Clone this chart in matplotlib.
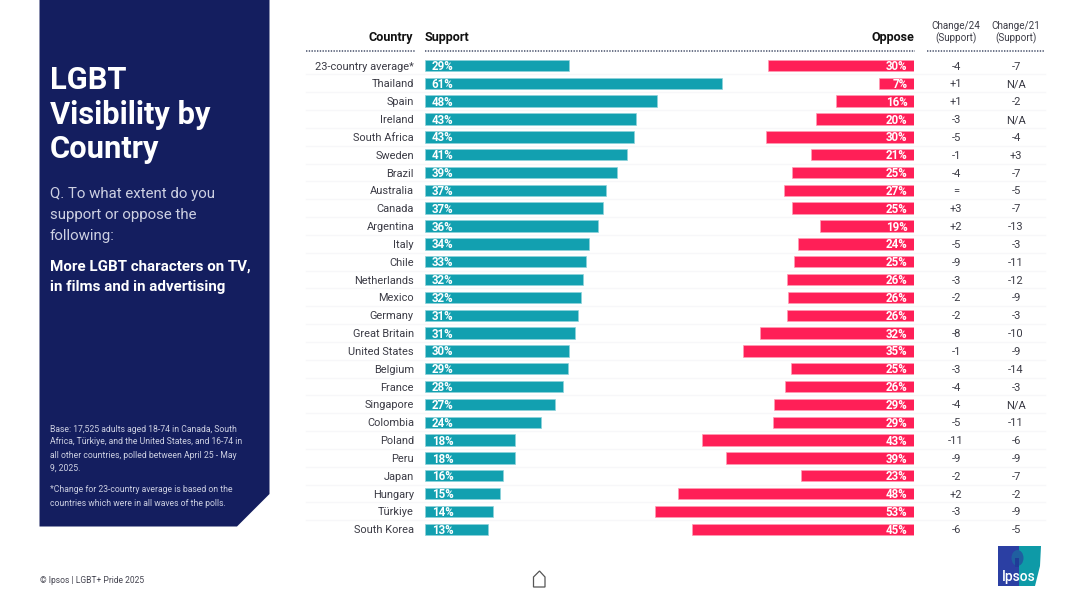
"""LGBT visibility by country, Ipsos Pride 2025 slide."""

import matplotlib

matplotlib.use("Agg")  # headless
import matplotlib.pyplot as plt
from matplotlib.patches import Ellipse, Polygon, Rectangle

W, H = 1080, 607

countries = [
    "23-country average*", "Thailand", "Spain", "Ireland", "South Africa", "Sweden", "Brazil",
    "Australia", "Canada", "Argentina", "Italy", "Chile", "Netherlands", "Mexico", "Germany",
    "Great Britain", "United States", "Belgium", "France", "Singapore", "Colombia", "Poland",
    "Peru", "Japan", "Hungary", "Türkiye", "South Korea",
]
# printed labels
support_labels = [29, 61, 48, 43, 43, 41, 39, 37, 37, 36, 34, 33, 32, 32, 31, 31, 30, 29, 28, 27, 24, 18, 18, 16, 15, 14, 13]
oppose_labels = [30, 7, 16, 20, 30, 21, 25, 27, 25, 19, 24, 25, 26, 26, 26, 32, 35, 25, 26, 29, 29, 43, 39, 23, 48, 53, 45]
# bar lengths, they run slightly off the printed labels
support_bars = [29.6, 61.0, 47.8, 43.4, 43.0, 41.5, 39.4, 37.2, 36.7, 35.6, 33.8, 33.1, 32.6, 32.0,
                31.5, 30.8, 29.6, 29.4, 28.3, 26.8, 23.9, 18.5, 18.5, 16.0, 15.4, 14.0, 12.9]
oppose_bars = [29.9, 7.3, 15.9, 20.1, 30.2, 21.1, 25.0, 26.6, 25.0, 19.2, 23.7, 24.6, 26.0, 25.8,
               26.0, 31.5, 34.9, 25.1, 26.4, 28.6, 28.8, 43.3, 38.5, 23.1, 48.2, 52.9, 45.4]
change_24 = ["-4", "+1", "+1", "-3", "-5", "-1", "-4", "=", "+3", "+2", "-5", "-9", "-3", "-2", "-2",
             "-8", "-1", "-3", "-4", "-4", "-5", "-11", "-9", "-2", "+2", "-3", "-6"]
change_21 = ["-7", "N/A", "-2", "N/A", "-4", "+3", "-7", "-5", "-7", "-13", "-3", "-11", "-12", "-9",
             "-3", "-10", "-9", "-14", "-3", "N/A", "-11", "-6", "-9", "-7", "-2", "-9", "-5"]

title_lines = ["LGBT", "Visibility by", "Country"]
question_lines = ["Q. To what extent do you", "support or oppose the", "following:"]
item_lines = ["More LGBT characters on TV,", "in films and in advertising"]
base_lines = ["Base: 17,525 adults aged 18-74 in Canada, South",
              "Africa, Türkiye, and the United States, and 16-74 in",
              "all other countries, polled between April 25 - May",
              "9, 2025."]
note_lines = ["*Change for 23-country average is based on the",
              "countries which were in all waves of the polls."]

NAVY = "#141E5F"
TEAL = "#12A0B0"
RED = "#FF1F57"
INK = "#3C3C46"
SOFT = "#CDD0E2"

plt.rcParams["font.family"] = ["Roboto", "DejaVu Sans"]
fig = plt.figure(figsize=(W / 100, H / 100), dpi=100, facecolor="white")


def px_axes(x0, y0, x1, y1):
    """Transparent axes placed by picture pixels (y from the top)."""
    ax = fig.add_axes([x0 / W, 1 - y1 / H, (x1 - x0) / W, (y1 - y0) / H])
    ax.set_axis_off()
    ax.patch.set_alpha(0)
    return ax


page = px_axes(0, 0, W, H)
page.set_xlim(0, W)
page.set_ylim(H, 0)

# left panel with the cut corner
page.add_patch(Polygon([(39.5, 0), (269.5, 0), (269.5, 494), (237, 526.5), (39.5, 526.5)],
                       closed=True, fc=NAVY, ec="none"))
for i, line in enumerate(title_lines):
    page.text(49.5, 80 + i * 34.5, line, color="white", fontsize=22.2, fontweight="bold", va="center")
for i, line in enumerate(question_lines):
    page.text(49.5, 194 + i * 21, line, color=SOFT, fontsize=10.8, va="center")
for i, line in enumerate(item_lines):
    page.text(49.5, 266.5 + i * 21, line, color="white", fontsize=10.9, fontweight="bold", va="center")
for i, line in enumerate(base_lines):
    page.text(49.5, 429 + i * 13, line, color=SOFT, fontsize=6.2, va="center")
for i, line in enumerate(note_lines):
    page.text(49.5, 490 + i * 13, line, color=SOFT, fontsize=6.2, va="center")

page.text(39.5, 580.5, "© Ipsos | LGBT+ Pride 2025", color="#444450", fontsize=6.15, va="center")

# headers
page.text(413, 37, "Country", color="#111111", fontsize=9.1, fontweight="bold", ha="right", va="center")
page.text(424.5, 37, "Support", color="#111111", fontsize=9.1, fontweight="bold", va="center")
page.text(914.5, 37, "Oppose", color="#111111", fontsize=9.0, fontweight="bold", ha="right", va="center")
for x, head in [(956, "Change/24"), (1016, "Change/21")]:
    page.text(x, 26, head, color=INK, fontsize=7.1, ha="center", va="center")
    page.text(x, 38, "(Support)", color=INK, fontsize=7.1, ha="center", va="center")
for x0, x1 in [(306, 415), (424.5, 915), (927, 1045)]:
    page.plot([x0, x1], [50.5, 50.5], color="#46506A", lw=1.1, ls=(0, (0.9, 0.9)))

# home icon
page.add_patch(Polygon([(533.5, 587), (533.5, 577), (539.5, 571), (545, 577), (545, 587)],
                       closed=True, fc="white", ec="#555555", lw=0.9))

# logo
page.add_patch(Polygon([(998, 546), (1019, 546), (1019, 586), (998, 586)], closed=True, fc="#2B3FA3", ec="none"))
page.add_patch(Polygon([(1019, 546), (1041, 546), (1040, 566), (1035, 586), (1019, 586)],
                       closed=True, fc="#0E9AA7", ec="none"))
page.add_patch(Ellipse((1017.5, 558), 12, 16, fc="#1F5FA0", ec="none"))
page.add_patch(Rectangle((1015, 558), 4, 9, fc="#1F3C98", ec="none"))
page.text(1019, 576.5, "Ipsos", color="white", fontsize=10, fontweight="medium", ha="center", va="center")

# rows share one vertical scale, 0 on top
ROW_LIMS = (26.5, -0.5)
TOP, BOTTOM = 56.58, 538.17
TEXT_DROP = 0.06  # row text sits a touch under the bar centre

table = px_axes(0, TOP, W, BOTTOM)
table.set_xlim(0, W)
table.set_ylim(*ROW_LIMS)
for i in range(len(countries) - 1):
    table.plot([306, 1045], [i + 0.5, i + 0.5], color="#F7F7F9", lw=1)
for i, name in enumerate(countries):
    y = i + TEXT_DROP
    table.text(414, y, name, color=INK, fontsize=7.9, ha="right", va="center")
    table.text(956, y, change_24[i], color=INK, fontsize=8, ha="center", va="center")
    table.text(1016, y, change_21[i], color=INK, fontsize=8, ha="center", va="center")

ax_support = px_axes(424.7, TOP, 915, BOTTOM)
ax_support.set_xlim(0, (915 - 424.7) / 4.87)
ax_support.set_ylim(*ROW_LIMS)
ax_support.barh(range(len(countries)), support_bars, height=0.64, color=TEAL, edgecolor="#8FD3DB", linewidth=0.5)

ax_oppose = px_axes(424.7, TOP, 914.3, BOTTOM)
ax_oppose.set_xlim((914.3 - 424.7) / 4.9, 0)
ax_oppose.set_ylim(*ROW_LIMS)
ax_oppose.barh(range(len(countries)), oppose_bars, height=0.64, color=RED, edgecolor="#FF9DB5", linewidth=0.5)

for i, (s, o) in enumerate(zip(support_labels, oppose_labels)):
    label_kw = dict(color="white", fontsize=8.3, fontweight="bold", va="center", zorder=5)
    ax_support.annotate(f"{s}%", (0, i), xytext=(5, -0.8), textcoords="offset points", ha="left", **label_kw)
    ax_oppose.annotate(f"{o}%", (0, i), xytext=(-5, -0.8), textcoords="offset points", ha="right", **label_kw)

fig.savefig("out.png", dpi=100)
plt.close(fig)
